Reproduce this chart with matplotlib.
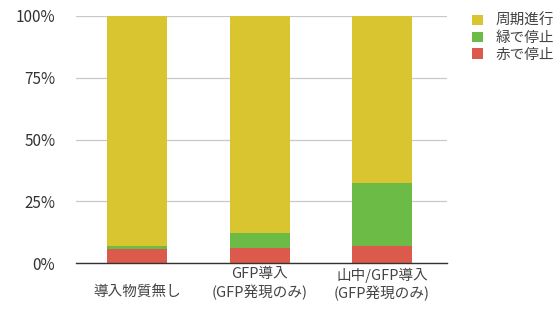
import matplotlib
matplotlib.use("Agg")
import matplotlib.pyplot as plt
from matplotlib.ticker import FuncFormatter

plt.rcParams["font.family"] = ["Noto Sans CJK JP", "DejaVu Sans"]

categories = ["\n導入物質無し", "GFP導入\n(GFP発現のみ)", "山中/GFP導入\n(GFP発現のみ)"]
red_stop = [5.7, 6.0, 6.9]
green_stop = [1.2, 6.1, 25.5]
cycling = [93.1, 87.9, 67.6]
series_names = ["周期進行", "緑で停止", "赤で停止"]

col_yellow = "#d8c52f"
col_green = "#6cbb46"
col_red = "#dc5a4b"

fig = plt.figure(figsize=(5.6, 3.26), dpi=100)
ax = fig.add_axes([0.136, 0.193, 0.662, 0.758])

x = range(len(categories))
b_red = ax.bar(x, red_stop, width=0.49, color=col_red, zorder=2)
bottom2 = red_stop
b_green = ax.bar(x, green_stop, width=0.49, bottom=bottom2, color=col_green, zorder=2)
bottom3 = [r + g for r, g in zip(red_stop, green_stop)]
b_yel = ax.bar(x, cycling, width=0.49, bottom=bottom3, color=col_yellow, zorder=2)

ax.set_ylim(0, 100)
ax.set_xlim(-0.5, 2.53)
ax.set_yticks([0, 25, 50, 75, 100])
ax.yaxis.set_major_formatter(FuncFormatter(lambda v, p: f"{int(v)}%"))
ax.grid(axis="y", color="#c8c8c8", linewidth=0.9, zorder=0)
for s in ["top", "right", "left"]:
    ax.spines[s].set_visible(False)
ax.spines["bottom"].set_color("#333333")
ax.spines["bottom"].set_linewidth(1.0)
ax.spines["bottom"].set_zorder(3)
ax.tick_params(axis="y", length=0, pad=15, labelsize=11, labelcolor="#333333")
ax.tick_params(axis="x", length=0, pad=3, labelsize=10.5, labelcolor="#444444")
ax.set_xticks(list(x))
ax.set_xticklabels(categories, linespacing=1.3)

leg = fig.legend([b_yel, b_green, b_red], series_names, loc="upper left",
                 bbox_to_anchor=(0.832, 0.975), frameon=False, fontsize=10.5,
                 handlelength=0.75, handleheight=0.75, handletextpad=0.9,
                 labelspacing=0.2, borderaxespad=0)
for t in leg.get_texts():
    t.set_color("#444444")

fig.savefig("out.png", dpi=100)
